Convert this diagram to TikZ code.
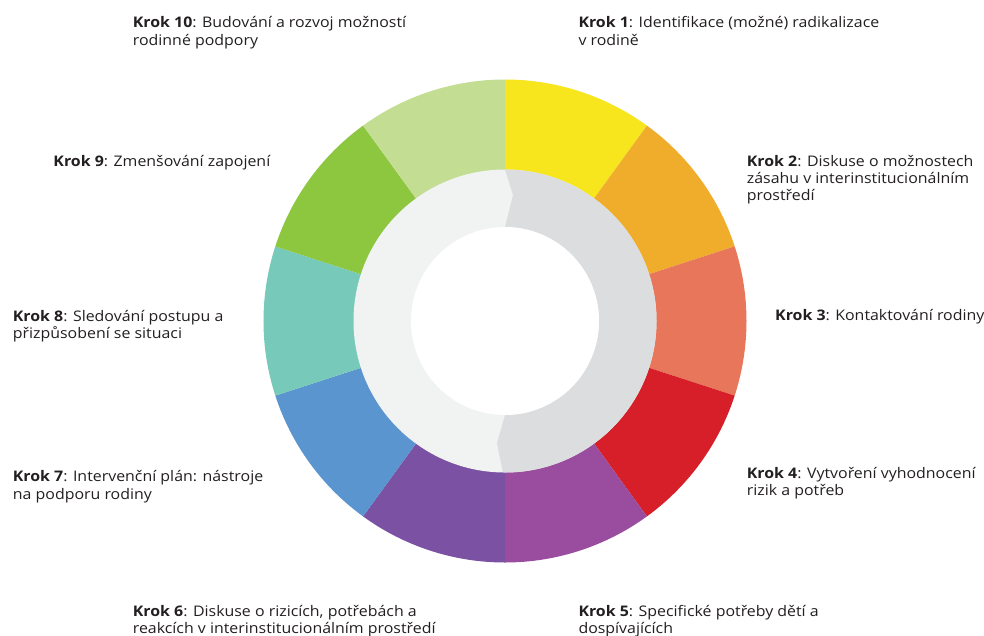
\documentclass[tikz,border=0pt]{standalone}
\usepackage{fontspec}
\setmainfont[FakeStretch=1.09]{Open Sans}
\usepackage{xcolor}
\usetikzlibrary{positioning}

\definecolor{txt}{HTML}{231F20}
\definecolor{c1}{HTML}{F7E51E}
\definecolor{c2}{HTML}{F0AD2B}
\definecolor{c3}{HTML}{E8765B}
\definecolor{c4}{HTML}{D61F29}
\definecolor{c5}{HTML}{9A4D9E}
\definecolor{c6}{HTML}{7B52A3}
\definecolor{c7}{HTML}{5A95D0}
\definecolor{c8}{HTML}{77C9BA}
\definecolor{c9}{HTML}{8DC63F}
\definecolor{c10}{HTML}{C3DD93}
\definecolor{ringlight}{HTML}{F1F2F2}
\definecolor{ringdark}{HTML}{DCDDDE}

\newcommand{\krok}[2]{\textbf{Krok #1}: #2}

\begin{document}
\begin{tikzpicture}[x=1pt,y=1pt,
		steptext/.style={anchor=base west,align=left,inner sep=0pt,text=txt,
			font=\fontsize{14.6}{17.4}\selectfont}]
	\useasboundingbox (-505,-314) rectangle (479,321);
	% colour wheel, 10 segments of 36 degrees
	\foreach \i in {1,...,10}{
		\pgfmathsetmacro{\a}{90-36*(\i-1)}
		\fill[c\i] (\a:151) -- (\a:241.5) arc[start angle=\a,end angle=\a-36,radius=241.5]
			-- (\a-36:151) arc[start angle=\a-36,end angle=\a,radius=151] -- cycle;
	}
	% inner ring
	\fill[ringlight] (0,0) circle[radius=151.5];
	\fill[ringdark] (90:151.5) arc[start angle=90,end angle=-90.8,radius=151.5]
		-- (-8,-122) -- (0,-94) arc[start angle=-90,end angle=90,radius=94]
		-- (8,126) -- cycle;
	\fill[white] (0,0) circle[radius=94];
	% labels (anchored at the baseline of the last line)
	\node[steptext] (krok1) at (73.3,275.9) {\krok{1}{Identifikace (možné) radikalizace}\\v rodině};
	\node[steptext] (krok2) at (241.7,120.2) {\krok{2}{Diskuse o možnostech}\\zásahu v interinstitucionálním\\prostředí};
	\node[steptext] (krok3) at (270,1) {\krok{3}{Kontaktování rodiny}};
	\node[steptext] (krok4) at (241.7,-174.4) {\krok{4}{Vytvoření vyhodnocení}\\rizik a potřeb};
	\node[steptext] (krok5) at (73.3,-312.4) {\krok{5}{Specifické potřeby dětí a}\\dospívajících};
	\node[steptext] (krok6) at (-372.3,-312.4) {\krok{6}{Diskuse o rizicích, potřebách a}\\reakcích v interinstitucionálním prostředí};
	\node[steptext] (krok7) at (-492.3,-178.1) {\krok{7}{Intervenční plán: nástroje}\\na podporu rodiny};
	\node[steptext] (krok8) at (-492.3,-17.4) {\krok{8}{Sledování postupu a}\\přizpůsobení se situaci};
	\node[steptext] (krok9) at (-451.7,154.3) {\krok{9}{Zmenšování zapojení}};
	\node[steptext] (krok10) at (-372.3,275.9) {\krok{10}{Budování a rozvoj možností}\\rodinné podpory};
\end{tikzpicture}
\end{document}
